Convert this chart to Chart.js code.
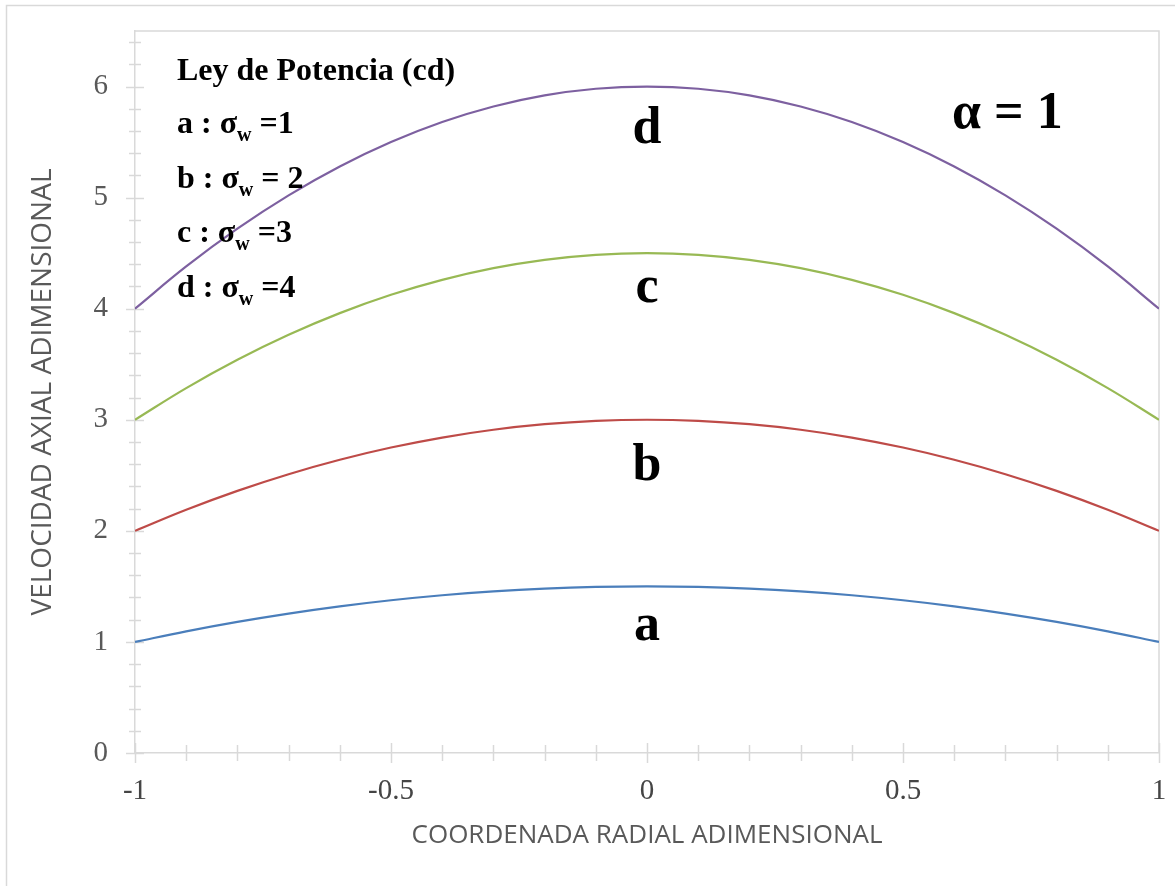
<!DOCTYPE html>
<html>
<head>
<meta charset="utf-8">
<script src="https://cdn.jsdelivr.net/npm/chart.js@4/dist/chart.umd.min.js"></script>
<style>
  html, body { margin: 0; padding: 0; background: #ffffff; }
  canvas { display: block; }
</style>
</head>
<body>
<canvas id="c" width="1175" height="886"></canvas>
<script>
// ---- data ----
const radialCoord = [-1, -0.9, -0.8, -0.7, -0.6, -0.5, -0.4, -0.3, -0.2, -0.1, 0, 0.1, 0.2, 0.3, 0.4, 0.5, 0.6, 0.7, 0.8, 0.9, 1];
const curveA = [1.000, 1.095, 1.180, 1.255, 1.320, 1.375, 1.420, 1.455, 1.480, 1.495, 1.500, 1.495, 1.480, 1.455, 1.420, 1.375, 1.320, 1.255, 1.180, 1.095, 1.000];
const curveB = [2.00, 2.19, 2.36, 2.51, 2.64, 2.75, 2.84, 2.91, 2.96, 2.99, 3.00, 2.99, 2.96, 2.91, 2.84, 2.75, 2.64, 2.51, 2.36, 2.19, 2.00];
const curveC = [3.000, 3.285, 3.540, 3.765, 3.960, 4.125, 4.260, 4.365, 4.440, 4.485, 4.500, 4.485, 4.440, 4.365, 4.260, 4.125, 3.960, 3.765, 3.540, 3.285, 3.000];
const curveD = [4.00, 4.38, 4.72, 5.02, 5.28, 5.50, 5.68, 5.82, 5.92, 5.98, 6.00, 5.98, 5.92, 5.82, 5.68, 5.50, 5.28, 5.02, 4.72, 4.38, 4.00];
const seriesNames = ['a', 'b', 'c', 'd'];
const seriesColors = ['#4A7EBB', '#BE4B48', '#98B954', '#7D60A0'];
const legendTitle = 'Ley de Potencia (cd)';
const legendRows = [['a : σ', 'w', ' =1'], ['b : σ', 'w', ' = 2'], ['c : σ', 'w', ' =3'], ['d : σ', 'w', ' =4']];
const alphaLabel = 'α = 1';
const xTitle = 'COORDENADA RADIAL ADIMENSIONAL';
const yTitle = 'VELOCIDAD AXIAL ADIMENSIONAL';

const allCurves = [curveA, curveB, curveC, curveD];
const datasets = allCurves.map((vals, k) => ({
  label: seriesNames[k],
  data: radialCoord.map((x, i) => ({ x: x, y: vals[i] })),
  borderColor: seriesColors[k],
  backgroundColor: seriesColors[k],
  borderWidth: 2.2,
  pointRadius: 0,
  tension: 0.4,
  fill: false
}));

const AXIS_COLOR = '#d9d9d9';
const SERIF = '"Liberation Serif", "Times New Roman", serif';

const decor = {
  id: 'decor',
  beforeDraw(chart) {
    const ctx = chart.ctx;
    const ca = chart.chartArea;
    ctx.save();
    ctx.strokeStyle = AXIS_COLOR;
    ctx.lineWidth = 1.5;
    // outer chart frame (right/bottom beyond the picture)
    ctx.beginPath();
    ctx.moveTo(6.5, 900); ctx.lineTo(6.5, 5.5); ctx.lineTo(1200, 5.5);
    ctx.stroke();
    // plot area top and right border
    ctx.beginPath();
    ctx.moveTo(ca.left, ca.top); ctx.lineTo(ca.right, ca.top); ctx.lineTo(ca.right, ca.bottom);
    ctx.stroke();
    ctx.restore();
  },
  beforeDatasetsDraw(chart) {
    const ctx = chart.ctx;
    const xs = chart.scales.x, ys = chart.scales.y;
    const ca = chart.chartArea;
    ctx.save();
    ctx.strokeStyle = AXIS_COLOR;
    ctx.lineWidth = 1.5;
    ctx.beginPath();
    for (let i = 0; i <= 20; i++) {
      const px = Math.round(xs.getPixelForValue(-1 + i * 0.1)) + 0.5;
      const h = (i % 5 === 0) ? 10 : 8;
      ctx.moveTo(px, ca.bottom - h); ctx.lineTo(px, ca.bottom + h);
    }
    for (let i = 0; i <= 32; i++) {
      const py = Math.round(ys.getPixelForValue(i * 0.2)) + 0.5;
      const w = (i % 5 === 0) ? 9 : 6;
      ctx.moveTo(ca.left - w, py); ctx.lineTo(ca.left + w, py);
    }
    ctx.stroke();
    ctx.restore();
  },
  afterDraw(chart) {
    const ctx = chart.ctx;
    const ca = chart.chartArea;
    const xs = chart.scales.x;
    ctx.save();
    ctx.fillStyle = '#000000';
    ctx.textBaseline = 'alphabetic';
    // legend block
    const lx = ca.left + 42;
    ctx.textAlign = 'left';
    ctx.font = 'bold 32px ' + SERIF;
    ctx.fillText(legendTitle, lx, 80);
    legendRows.forEach((row, i) => {
      const by = 133 + i * 54.5;
      let x = lx;
      ctx.font = 'bold 32px ' + SERIF;
      ctx.fillText(row[0], x, by);
      x += ctx.measureText(row[0]).width;
      ctx.font = 'bold 20px ' + SERIF;
      ctx.fillText(row[1], x, by + 8);
      x += ctx.measureText(row[1]).width;
      ctx.font = 'bold 32px ' + SERIF;
      ctx.fillText(row[2], x, by);
    });
    // curve letters
    ctx.font = 'bold 52px ' + SERIF;
    ctx.textAlign = 'center';
    const cx = xs.getPixelForValue(0);
    const letterBase = [640, 480, 302, 143];
    seriesNames.forEach((n, i) => ctx.fillText(n, cx, letterBase[i]));
    // alpha label
    ctx.textAlign = 'left';
    ctx.fillText(alphaLabel, 952, 128);
    ctx.restore();
  }
};

new Chart(document.getElementById('c'), {
  type: 'line',
  data: { datasets: datasets },
  options: {
    responsive: false,
    animation: false,
    events: [],
    layout: { padding: { left: 0, top: 31, right: 16, bottom: 0 } },
    plugins: { legend: { display: false }, tooltip: { enabled: false }, title: { display: false } },
    scales: {
      x: {
        type: 'linear',
        min: -1, max: 1,
        afterFit(s) { s.height = 133; s.paddingLeft = 0; s.paddingRight = 0; },
        grid: { display: false, drawTicks: false },
        border: { display: true, color: AXIS_COLOR, width: 1.5 },
        ticks: {
          stepSize: 0.5,
          padding: 21,
          color: '#454545',
          font: { family: SERIF, size: 29 },
          callback: v => String(v)
        },
        title: {
          display: true,
          text: xTitle,
          color: '#595959',
          font: { family: '"Open Sans", sans-serif', size: 26 },
          padding: { top: 0, bottom: 35 }
        }
      },
      y: {
        type: 'linear',
        min: 0, max: 6.5,
        afterFit(s) { s.width = 135; s.paddingTop = 0; s.paddingBottom = 0; },
        grid: { display: false, drawTicks: false },
        border: { display: true, color: AXIS_COLOR, width: 1.5 },
        ticks: {
          stepSize: 1,
          includeBounds: false,
          padding: 27,
          color: '#595959',
          font: { family: SERIF, size: 29 },
          callback: v => String(v)
        },
        title: {
          display: true,
          text: yTitle,
          color: '#595959',
          font: { family: '"Open Sans", sans-serif', size: 28 },
          padding: { top: 26, bottom: 0 }
        }
      }
    }
  },
  plugins: [decor]
});
</script>
</body>
</html>
